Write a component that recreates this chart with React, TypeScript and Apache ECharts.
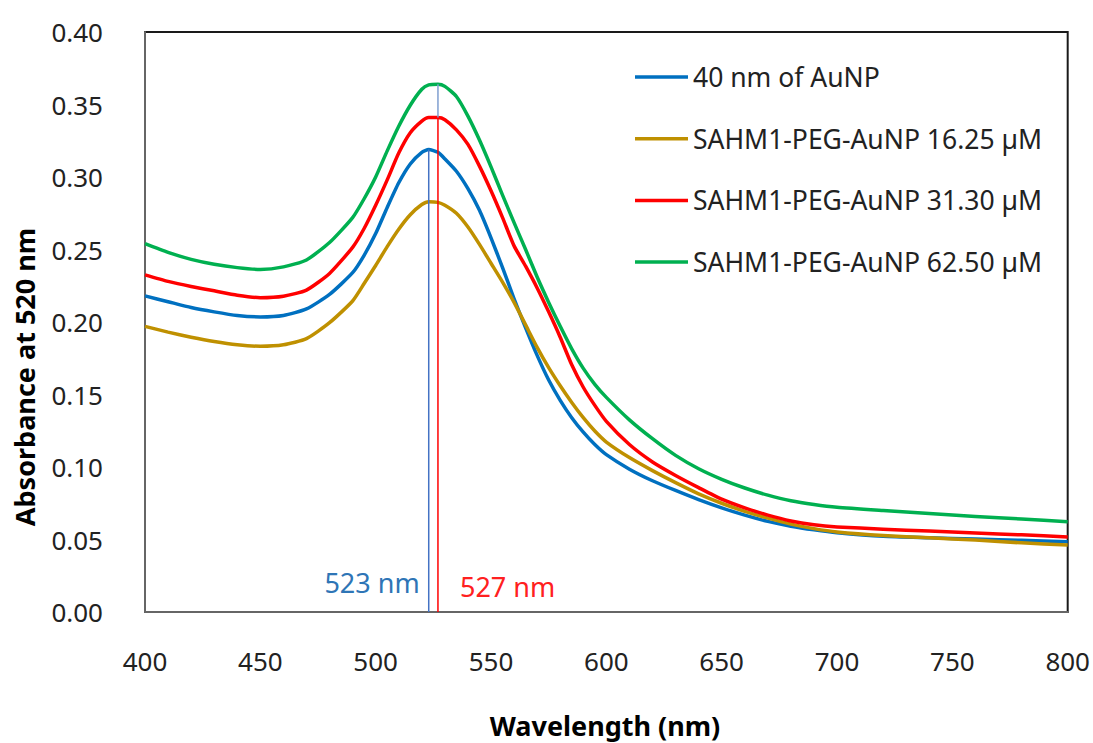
import React, { useEffect, useRef } from "react";
import * as echarts from "echarts";

const wavelengths = [400, 410, 420, 430, 440, 450, 460, 470, 480, 490, 495, 500, 505, 510, 515, 520, 523, 527, 530, 535, 540, 545, 550, 555, 560, 565, 570, 575, 580, 585, 590, 595, 600, 610, 620, 630, 640, 650, 660, 670, 680, 690, 700, 720, 740, 760, 780, 800];

const au40 = [0.218, 0.214, 0.21, 0.207, 0.2045, 0.2035, 0.2045, 0.209, 0.219, 0.234, 0.246, 0.261, 0.279, 0.296, 0.309, 0.317, 0.319, 0.317, 0.3125, 0.304, 0.292, 0.277, 0.258, 0.2375, 0.216, 0.196, 0.177, 0.16, 0.146, 0.134, 0.124, 0.1155, 0.1085, 0.0985, 0.0905, 0.0838, 0.0775, 0.0718, 0.0668, 0.0625, 0.0592, 0.0567, 0.0547, 0.0522, 0.0512, 0.0503, 0.0494, 0.0485];

const peg1625 = [0.197, 0.193, 0.1895, 0.1865, 0.1843, 0.1833, 0.1843, 0.1885, 0.1995, 0.2145, 0.2265, 0.239, 0.252, 0.264, 0.274, 0.281, 0.283, 0.2825, 0.2805, 0.275, 0.2655, 0.2535, 0.2405, 0.2275, 0.2135, 0.198, 0.1825, 0.1685, 0.156, 0.1445, 0.134, 0.1248, 0.1172, 0.1065, 0.0975, 0.0892, 0.0815, 0.075, 0.0694, 0.0647, 0.0606, 0.0575, 0.0552, 0.0527, 0.0512, 0.0496, 0.0477, 0.0462];

const peg3130 = [0.2325, 0.228, 0.2245, 0.2215, 0.2185, 0.2168, 0.2178, 0.222, 0.2335, 0.2515, 0.2645, 0.2805, 0.298, 0.3165, 0.3305, 0.3385, 0.341, 0.341, 0.3395, 0.3325, 0.3225, 0.3075, 0.2905, 0.272, 0.2525, 0.2385, 0.2235, 0.207, 0.1895, 0.1705, 0.155, 0.1425, 0.1315, 0.1155, 0.1035, 0.0942, 0.0858, 0.0778, 0.0718, 0.0668, 0.0628, 0.0602, 0.0587, 0.0571, 0.0558, 0.0545, 0.0532, 0.0518];

const peg6250 = [0.254, 0.248, 0.2432, 0.2398, 0.2375, 0.2362, 0.238, 0.2428, 0.2548, 0.272, 0.285, 0.3, 0.318, 0.335, 0.3495, 0.3605, 0.3635, 0.364, 0.3625, 0.3555, 0.342, 0.3255, 0.307, 0.2875, 0.2685, 0.25, 0.231, 0.2135, 0.197, 0.1815, 0.168, 0.157, 0.148, 0.1325, 0.1195, 0.108, 0.0988, 0.0915, 0.0855, 0.0806, 0.0767, 0.0741, 0.0722, 0.07, 0.068, 0.0659, 0.0641, 0.0623];

const seriesNames = ["40 nm of AuNP", "SAHM1-PEG-AuNP 16.25 µM", "SAHM1-PEG-AuNP 31.30 µM", "SAHM1-PEG-AuNP 62.50 µM"];
const seriesValues = [au40, peg1625, peg3130, peg6250];
const seriesColors = ["#0070C0", "#BF9000", "#FF0000", "#00B050"];

const peakWavelengths = [523, 527];
const peakTops = [0.319, 0.341];
const peakLabels = ["523 nm", "527 nm"];
const peakColors = ["#4472C4", "#FF0000"];
const peakTextColors = ["#2E75B6", "#FF2020"];
const upperSegment = [527, 0.341, 0.364];

const yTicks = [0, 0.05, 0.1, 0.15, 0.2, 0.25, 0.3, 0.35, 0.4];
const xTicks = [400, 450, 500, 550, 600, 650, 700, 750, 800];

const FONT = '"Noto Sans", "DejaVu Sans", sans-serif';

export default function App() {
  const ref = useRef<HTMLDivElement>(null);
  useEffect(() => {
    if (!ref.current) return;
    const chart = echarts.init(ref.current, null, { renderer: "svg" });
    const lineSeries: any[] = seriesNames.map((name, i) => ({
      name,
      type: "line",
      data: wavelengths.map((w, j) => [w, seriesValues[i][j]]),
      showSymbol: false,
      smooth: 0.2,
      lineStyle: { color: seriesColors[i], width: 3.5, join: "round" },
      itemStyle: { color: seriesColors[i] },
      z: 3,
    }));
    const peakSeries: any[] = peakWavelengths.map((w, i) => ({
      type: "line",
      data: [[w, 0], [w, peakTops[i]]],
      showSymbol: false,
      lineStyle: { color: peakColors[i], width: 1.5 },
      z: 4,
      silent: true,
    }));
    peakSeries.push({
      type: "line",
      data: [[upperSegment[0], upperSegment[1]], [upperSegment[0], upperSegment[2]]],
      showSymbol: false,
      lineStyle: { color: "#7F9FD0", width: 1.5 },
      z: 4,
      silent: true,
    });
    chart.setOption({
      animation: false,
      backgroundColor: "#fff",
      grid: {
        left: 145,
        right: 25,
        top: 32,
        bottom: 131,
        show: true,
        borderColor: "#1a1a1a",
        borderWidth: 2,
      },
      xAxis: {
        type: "value",
        min: xTicks[0],
        max: xTicks[xTicks.length - 1],
        interval: 50,
        axisLine: { show: true, lineStyle: { color: "#666", width: 2 } },
        axisTick: { show: false },
        splitLine: { show: false },
        axisLabel: { color: "#222", fontSize: 26, fontFamily: FONT, margin: 36 },
      },
      yAxis: {
        type: "value",
        min: yTicks[0],
        max: yTicks[yTicks.length - 1],
        interval: 0.05,
        axisLine: { show: true, lineStyle: { color: "#666", width: 2 } },
        axisTick: { show: false },
        splitLine: { show: false },
        axisLabel: {
          color: "#222",
          fontSize: 26,
          fontFamily: FONT,
          margin: 42,
          formatter: (v: number) => v.toFixed(2),
        },
      },
      legend: {
        data: seriesNames,
        orient: "vertical",
        left: 630,
        top: 57,
        icon: "rect",
        itemWidth: 53,
        itemHeight: 3.5,
        itemGap: 31.7,
        textStyle: { fontSize: 26.5, fontFamily: FONT, color: "#222", lineHeight: 30 },
      },
      series: [...lineSeries, ...peakSeries],
    });
    const graphics: any[] = [
      {
        type: "text",
        x: 24,
        y: 377,
        rotation: Math.PI / 2,
        style: {
          text: "Absorbance at 520 nm",
          fill: "#000",
          font: `bold 27px ${FONT}`,
          align: "center",
          verticalAlign: "middle",
        },
      },
      {
        type: "text",
        x: 605,
        y: 725,
        style: {
          text: "Wavelength (nm)",
          fill: "#000",
          font: `bold 27px ${FONT}`,
          align: "center",
          verticalAlign: "middle",
        },
      },
    ];
    peakWavelengths.forEach((w, i) => {
      const p = chart.convertToPixel({ gridIndex: 0 }, [w, 0]) as number[];
      graphics.push({
        type: "text",
        x: i === 0 ? p[0] - 9 : p[0] + 22,
        y: i === 0 ? 582 : 586,
        style: {
          text: peakLabels[i],
          fill: peakTextColors[i],
          font: `27px ${FONT}`,
          align: i === 0 ? "right" : "left",
          verticalAlign: "middle",
        },
      });
    });
    chart.setOption({ graphic: graphics });
    return () => chart.dispose();
  }, []);
  return (
    <div
      ref={ref}
      style={{ position: "fixed", left: 0, top: 0, width: 1093, height: 743, background: "#fff" }}
    />
  );
}
